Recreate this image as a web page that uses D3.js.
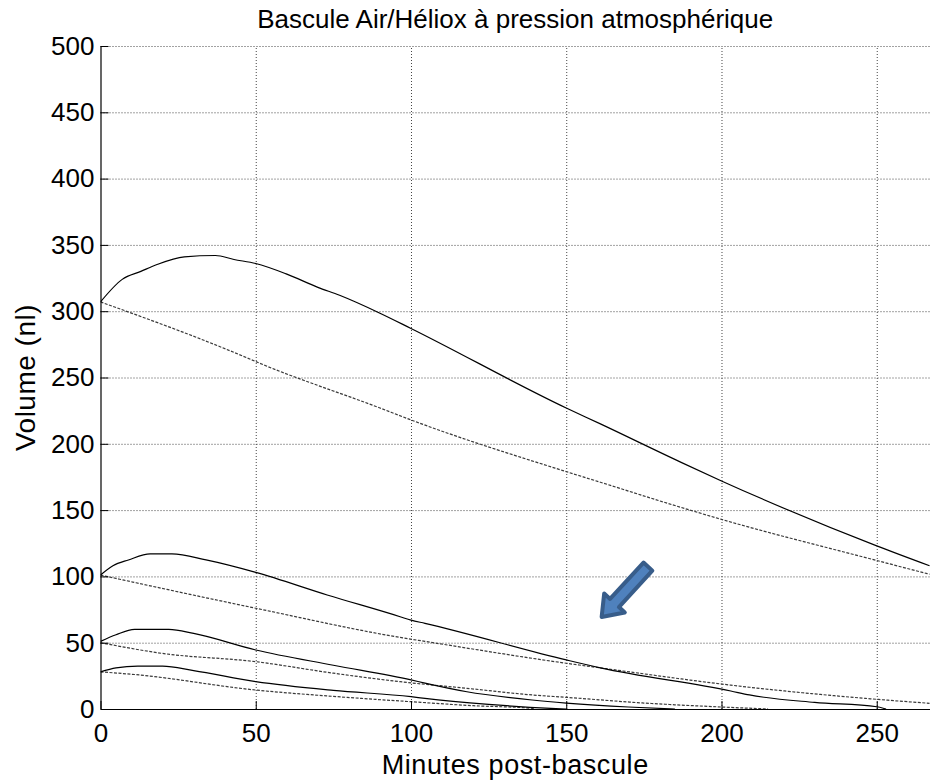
<!doctype html>
<html lang="fr">
<head>
<meta charset="UTF-8">
<title>Bascule Air/Héliox à pression atmosphérique</title>
<script src="https://d3js.org/d3.v7.min.js"></script>
<style>
body { margin: 0; background-color: #ffffff; font-family: "Liberation Sans", Arial, sans-serif; }
svg { display: block; }
.axis path { fill: none; stroke: #000; stroke-width: 1.2; }
.axis line { stroke: #000; }
.axis text { font-family: "Liberation Sans", Arial, sans-serif; font-size: 26px; fill: #000; }
.grid line { stroke: #444; stroke-dasharray: 1,2; }
.grid path { display: none; }
path.solid { fill: none; stroke: #000; stroke-width: 1.2; }
path.dotted { fill: none; stroke: #3a3a3a; stroke-width: 1.2; stroke-dasharray: 3,1.5; }
</style>
</head>
<body>
<div id="plot"></div>
<script>

var width = 930;
var height = 781;
var padLeft = 100.5, padRight = 930, padTop = 46, padBottom = 709;

var xTicks = [0, 50, 100, 150, 200, 250];
var yTicks = [0, 50, 100, 150, 200, 250, 300, 350, 400, 450, 500];

// courbes pleines
var t1 = [0, 7, 13, 18, 27, 37, 43, 50, 60, 70, 77, 90, 100, 150, 161, 187, 200, 250, 267];
var v1 = [307, 324, 330, 335, 341, 342, 339, 336, 328, 318, 312, 298.5, 287, 227, 215, 186, 172, 123, 108];
var t2 = [0, 4, 9, 16, 23, 34, 50, 73, 96.5, 100, 104.5, 150, 161, 203, 209, 230, 250, 253];
var v2 = [101, 108, 112.4, 117, 117, 112.4, 103, 86, 69.6, 67, 64.6, 37, 31, 13.6, 10.6, 5, 1.7, 0];
var t3 = [0, 5, 11, 22, 30, 50, 75, 100, 104.5, 118, 139, 150, 170, 185];
var v3 = [51, 56, 60, 60, 57, 44.5, 33, 22, 19.5, 13, 6.8, 4.5, 1.5, 0];
var t4 = [0, 5, 12, 20, 30, 50, 75, 100, 104.5, 125, 145, 150];
var v4 = [28, 31, 32.4, 32.4, 29, 20.6, 14, 9.3, 8, 3.5, 0.5, 0];

// courbes pointillées
var u1 = [0, 47, 50, 90, 100, 150, 161, 187, 200, 250, 267];
var w1 = [307, 265, 262, 227, 218, 179, 171, 152, 143, 112, 101.6];
var u2 = [0, 50, 96.5, 104.5, 150, 161, 203, 209, 250, 267];
var w2 = [101, 76, 54, 51, 34.5, 31, 18, 16.4, 7.3, 4.3];
var u3 = [0, 19.7, 50, 75, 96.5, 118, 139, 150, 175, 200, 215];
var w3 = [50, 42, 35.7, 27, 20.6, 15.6, 10.6, 8.8, 4.5, 1.5, 0];
var u4 = [0, 11, 50, 75, 100, 120, 139, 140];
var w4 = [28, 26, 14.3, 9.5, 5.5, 2.5, 0.5, 0];

// flèche (minutes, nl)
var arrowTail = [176.3, 107.4];
var arrowTip = [161.4, 69.4];

var svg = d3.select("#plot").append("svg")
	.attr("width", width)
	.attr("height", height);

var xScale = d3.scaleLinear().domain([0, 267.15]).range([padLeft, padRight]);
var yScale = d3.scaleLinear().domain([0, 500]).range([padBottom, padTop]);

svg.append("clipPath").attr("id", "clip")
	.append("rect")
	.attr("x", padLeft).attr("y", padTop - 2)
	.attr("width", padRight - padLeft).attr("height", padBottom - padTop + 2);

// grille
svg.append("g")
	.attr("class", "grid")
	.attr("transform", "translate(0," + padBottom + ")")
	.call(d3.axisBottom(xScale).tickValues(xTicks.slice(1)).tickSize(-(padBottom - padTop)).tickFormat(""));

svg.append("g")
	.attr("class", "grid")
	.attr("transform", "translate(" + padLeft + ",0)")
	.call(d3.axisLeft(yScale).tickValues(yTicks.slice(1)).tickSize(-(padRight - padLeft)).tickFormat(""));

var line = d3.line()
	.x(function (d) { return xScale(d[0]); })
	.y(function (d) { return yScale(d[1]); })
	.curve(d3.curveMonotoneX);

function pairs(ts, vs) {
	return ts.map(function (t, i) { return [t, vs[i]]; });
}

var plot = svg.append("g").attr("clip-path", "url(#clip)");

[[u1, w1], [u2, w2], [u3, w3], [u4, w4]].forEach(function (s) {
	plot.append("path").attr("class", "dotted").attr("d", line(pairs(s[0], s[1])));
});
[[t1, v1], [t2, v2], [t3, v3], [t4, v4]].forEach(function (s) {
	plot.append("path").attr("class", "solid").attr("d", line(pairs(s[0], s[1])));
});

// axes
var xAxis = d3.axisBottom(xScale).tickValues(xTicks).tickSizeInner(-8).tickSizeOuter(0).tickPadding(15);
svg.append("g")
	.attr("class", "axis")
	.attr("transform", "translate(0," + padBottom + ")")
	.call(xAxis);

var yAxis = d3.axisLeft(yScale).tickValues(yTicks).tickSizeInner(-8).tickSizeOuter(0).tickPadding(6);
svg.append("g")
	.attr("class", "axis")
	.attr("transform", "translate(" + padLeft + ",0)")
	.call(yAxis)
	.selectAll("text").attr("x", -6);

// flèche
var ax0 = xScale(arrowTail[0]), ay0 = yScale(arrowTail[1]);
var ax1 = xScale(arrowTip[0]), ay1 = yScale(arrowTip[1]);
var ang = Math.atan2(ay1 - ay0, ax1 - ax0) * 180 / Math.PI;
var len = Math.hypot(ax1 - ax0, ay1 - ay0);
var hl = 19;
svg.append("path")
	.attr("transform", "translate(" + ax0 + "," + ay0 + ") rotate(" + ang + ")")
	.attr("d", "M0,-6 L" + (len - hl) + ",-6 L" + (len - hl) + ",-14 L" + len + ",0 L" + (len - hl) + ",14 L" + (len - hl) + ",6 L0,6 Z")
	.style("fill", "#4f81bd")
	.style("stroke", "#385d8a")
	.style("stroke-width", 4)
	.style("stroke-linejoin", "round");

// textes
svg.append("text")
	.attr("x", (padLeft + padRight) / 2)
	.attr("y", 28)
	.attr("text-anchor", "middle")
	.style("font-size", "26px")
	.text("Bascule Air/Héliox à pression atmosphérique");

svg.append("text")
	.attr("x", (padLeft + padRight) / 2)
	.attr("y", 774)
	.attr("text-anchor", "middle")
	.style("font-size", "27px")
	.style("letter-spacing", "0.6px")
	.text("Minutes post-bascule");

svg.append("text")
	.attr("transform", "translate(35," + ((padTop + padBottom) / 2) + ") rotate(-90)")
	.attr("text-anchor", "middle")
	.style("font-size", "28px")
	.style("letter-spacing", "0.5px")
	.text("Volume (nl)");

</script>
</body>
</html>
